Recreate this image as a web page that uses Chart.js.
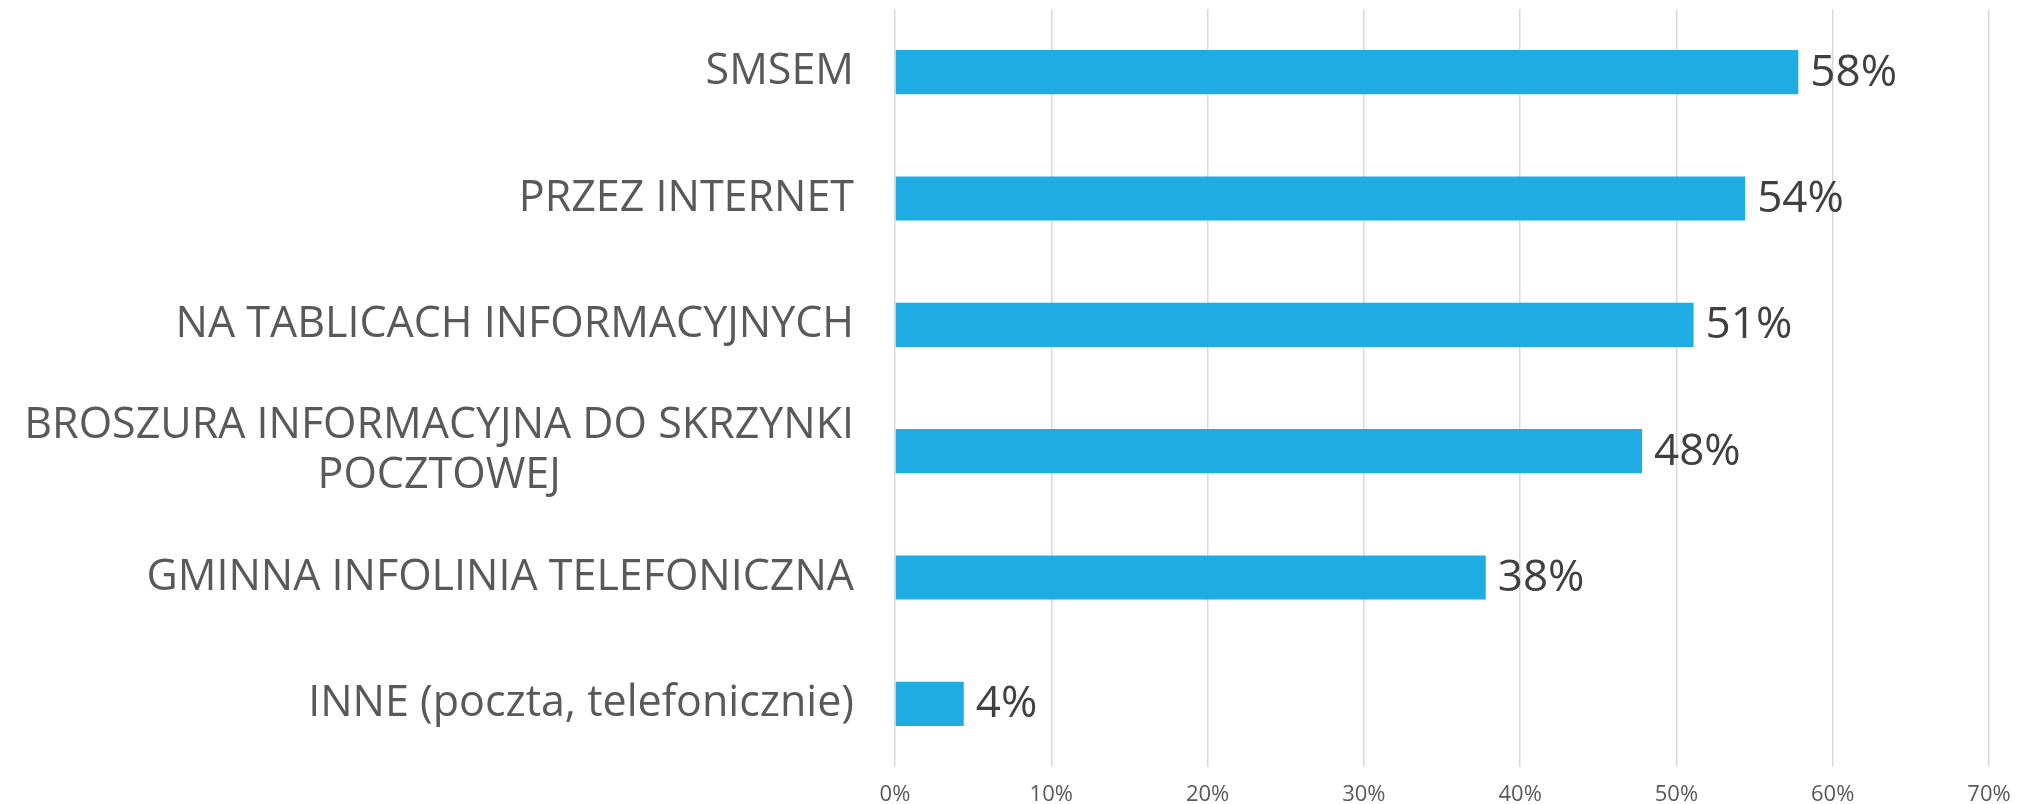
<!DOCTYPE html>
<html>
<head>
<meta charset="utf-8">
<script src="https://cdn.jsdelivr.net/npm/chart.js@4/dist/chart.umd.min.js"></script>
<style>
    html, body { margin: 0; padding: 0; background: #ffffff; }
    #wrap { width: 2023px; height: 804px; position: relative; }
</style>
</head>
<body>
<div id="wrap"><canvas id="chart"></canvas></div>
<script>
    // Data
    const categories = [
        'SMSEM',
        'PRZEZ INTERNET',
        'NA TABLICACH INFORMACYJNYCH',
        ['BROSZURA INFORMACYJNA DO SKRZYNKI', 'POCZTOWEJ'],
        'GMINNA INFOLINIA TELEFONICZNA',
        'INNE (poczta, telefonicznie)'
    ];
    const values = [57.8, 54.4, 51.1, 47.8, 37.8, 4.4];
    const tickValues = [0, 10, 20, 30, 40, 50, 60, 70];

    const fontFamily = '"Open Sans", "Noto Sans", sans-serif';

    // Category labels: right edge against the axis, wrapped lines centred on each other
    const categoryLabels = {
        id: 'categoryLabels',
        afterDraw(chart) {
            const ctx = chart.ctx;
            const scale = chart.scales.y;
            const right = chart.chartArea.left - 41;
            const lineHeight = 50;
            ctx.save();
            ctx.font = '43px ' + fontFamily;
            ctx.fillStyle = '#595959';
            ctx.textAlign = 'center';
            ctx.textBaseline = 'middle';
            categories.forEach(function(label, i) {
                const lines = Array.isArray(label) ? label : [label];
                const widest = Math.max(...lines.map(l => ctx.measureText(l).width));
                const cx = right - widest / 2;
                const y = scale.getPixelForTick(i);
                lines.forEach(function(line, j) {
                    ctx.fillText(line, cx, y + (j - (lines.length - 1) / 2) * lineHeight);
                });
            });
            ctx.restore();
        }
    };

    // Draws the percentage next to each bar
    const barLabels = {
        id: 'barLabels',
        afterDatasetsDraw(chart) {
            const ctx = chart.ctx;
            const meta = chart.getDatasetMeta(0);
            ctx.save();
            ctx.font = '44px ' + fontFamily;
            ctx.fillStyle = '#404040';
            ctx.textAlign = 'left';
            ctx.textBaseline = 'middle';
            meta.data.forEach(function(bar, i) {
                ctx.fillText(Math.round(values[i]) + '%', bar.x + 12, bar.y + 1);
            });
            ctx.restore();
        }
    };

    new Chart(document.getElementById('chart').getContext('2d'), {
        type: 'bar',
        data: {
            labels: categories,
            datasets: [{
                data: values,
                backgroundColor: '#1eace3',
                borderWidth: 0,
                categoryPercentage: 1,
                barPercentage: 0.35
            }]
        },
        options: {
            indexAxis: 'y',
            responsive: true,
            maintainAspectRatio: false,
            animation: false,
            layout: {
                padding: { top: 9, right: 34, bottom: 0, left: 0 }
            },
            scales: {
                x: {
                    min: 0,
                    max: 70,
                    afterBuildTicks: function(scale) {
                        scale.ticks = tickValues.map(v => ({ value: v }));
                    },
                    grid: { color: '#d9d9d9', lineWidth: 1.5, drawTicks: false },
                    border: { display: false },
                    ticks: {
                        padding: 15,
                        color: '#595959',
                        font: { family: fontFamily, size: 22 },
                        callback: v => v + '%'
                    },
                    afterFit: function(scale) {
                        scale.height = 37;
                        scale.paddingLeft = 0;
                        scale.paddingRight = 0;
                    }
                },
                y: {
                    grid: { display: false, drawTicks: false },
                    border: { display: false },
                    ticks: { display: false },
                    afterFit: function(scale) {
                        scale.width = 895;
                        scale.paddingTop = 0;
                        scale.paddingBottom = 0;
                    }
                }
            },
            plugins: {
                legend: { display: false },
                tooltip: { enabled: false }
            }
        },
        plugins: [categoryLabels, barLabels]
    });
</script>
</body>
</html>
